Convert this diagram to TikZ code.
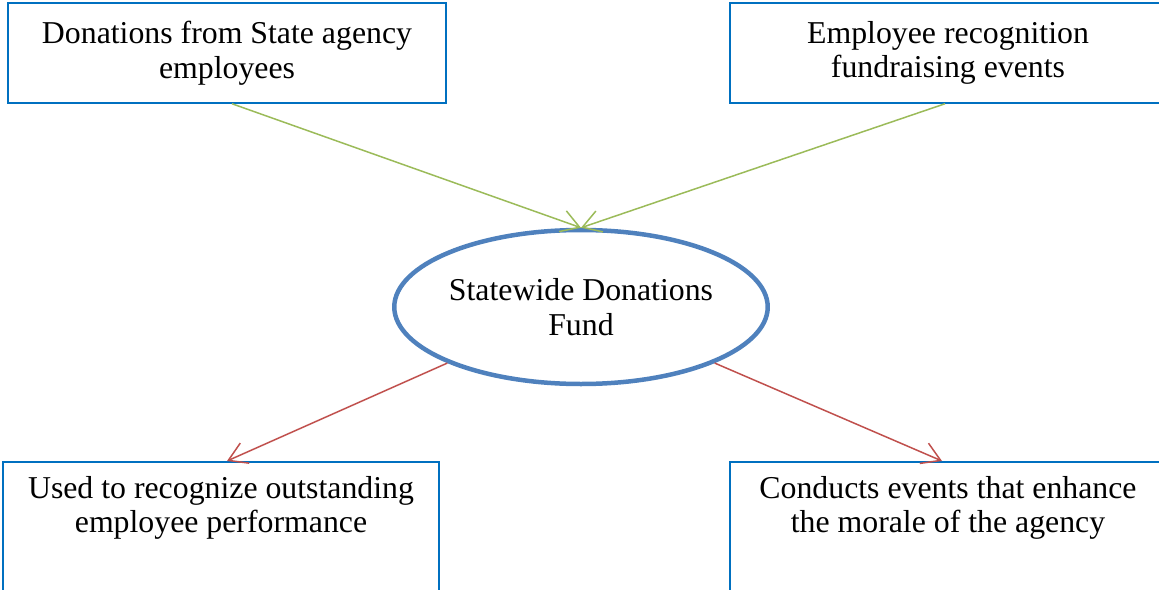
\documentclass[tikz,border=0pt]{standalone}
\usepackage{fontspec}
\setmainfont{Liberation Serif}
\usetikzlibrary{arrows.meta,shapes.geometric}
\definecolor{boxblue}{HTML}{0070C0}
\definecolor{fundblue}{HTML}{4F81BD}
\definecolor{ingreen}{HTML}{9BBB59}
\definecolor{outred}{HTML}{C0504D}

\begin{document}
\begin{tikzpicture}[x=1pt, y=-1pt,
        every node/.style={font=\fontsize{31.8}{34.5}\selectfont, align=center},
        box/.style={draw=boxblue, line width=1.5pt, rectangle, minimum width=436pt, inner sep=0pt},
        inflow/.style={draw=ingreen, line width=1.5pt, -{Straight Barb[length=18pt, width=22pt]}},
        outflow/.style={draw=outred, line width=1.5pt, -{Straight Barb[length=18pt, width=22pt]}}]
            \path[use as bounding box, clip] (0,0) rectangle (1159,589);
            \node[box, minimum width=438pt, minimum height=100pt] (donations) at (227,53) {Donations from State agency\\employees};
            \node[box, minimum height=100pt] (events) at (948,53) {Employee recognition\\fundraising events};
            \node[ellipse, draw=fundblue, line width=4.5pt, minimum width=372pt, minimum height=154pt, inner sep=0pt] (fund) at (581,307) {Statewide Donations\\Fund};
            \node[box, minimum height=170pt, anchor=north] (recognize) at (221,461) {};
            \node[box, minimum height=170pt, anchor=north] (morale) at (948,461) {};
            \node[anchor=north, inner sep=0pt] (recognizetext) at (221,476) {Used to recognize outstanding\\employee performance};
            \node[anchor=north, inner sep=0pt] (moraletext) at (948,476) {Conducts events that enhance\\the morale of the agency};
            \draw[inflow] ([xshift=5pt]donations.south) -- (fund.north);
            \draw[inflow] ([xshift=-3pt]events.south) -- (fund.north);
            \draw[outflow] (fund.south west) -- ([xshift=6pt]recognize.north);
            \draw[outflow] (fund.south east) -- ([xshift=-6pt]morale.north);
        \end{tikzpicture}
\end{document}
